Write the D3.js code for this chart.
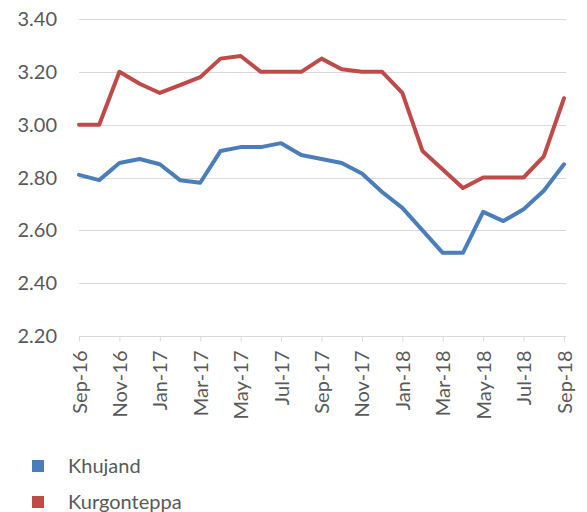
<!DOCTYPE html>
<html>
<head>
<meta charset="utf-8">
<script src="https://cdn.jsdelivr.net/npm/d3@7"></script>
<style>
  html, body { margin: 0; padding: 0; background: #fff; }
  svg { display: block; }
  text { font-family: Lato, "Open Sans", sans-serif; fill: #595959; }
</style>
</head>
<body>
<svg id="chart" width="587" height="512"></svg>
<script>
const months = ["Sep-16","Oct-16","Nov-16","Dec-16","Jan-17","Feb-17","Mar-17","Apr-17","May-17","Jun-17","Jul-17","Aug-17",
  "Sep-17","Oct-17","Nov-17","Dec-17","Jan-18","Feb-18","Mar-18","Apr-18","May-18","Jun-18","Jul-18","Aug-18","Sep-18"];
const khujand = [2.81,2.79,2.855,2.87,2.85,2.79,2.78,2.90,2.915,2.915,2.93,2.885,
  2.87,2.855,2.815,2.745,2.685,2.60,2.515,2.515,2.67,2.635,2.68,2.75,2.85];
const kurgonteppa = [3.00,3.00,3.20,3.155,3.12,3.15,3.18,3.25,3.26,3.20,3.20,3.20,
  3.25,3.21,3.20,3.20,3.12,2.90,2.83,2.76,2.80,2.80,2.80,2.88,3.10];
const yTicks = [2.20,2.40,2.60,2.80,3.00,3.20,3.40];
const seriesNames = ["Khujand","Kurgonteppa"];
const seriesColors = ["#4A7EBB","#BE4B48"];

const svg = d3.select("#chart");
const x = d3.scalePoint().domain(months).range([79, 564]);
const y = d3.scaleLinear().domain([2.2, 3.4]).range([336, 19]);

// gridlines
svg.append("g").selectAll("line").data(yTicks.slice(1)).join("line")
  .attr("x1", 79).attr("x2", 566)
  .attr("y1", d => Math.round(y(d)) + 0.5).attr("y2", d => Math.round(y(d)) + 0.5)
  .attr("stroke", "#d9d9d9").attr("stroke-width", 1);

// y labels
svg.append("g").selectAll("text").data(yTicks).join("text")
  .attr("x", 57).attr("y", d => y(d))
  .attr("dy", "0.35em").attr("text-anchor", "end")
  .attr("font-size", 20)
  .text(d => d.toFixed(2));

// x axis
const labelled = months.filter((m, i) => i % 2 === 0);
const xAxis = d3.axisBottom(x).tickValues(labelled).tickSize(5).tickPadding(8);
const gx = svg.append("g").attr("transform", `translate(0,${Math.round(y(2.2)) + 0.5})`).call(xAxis);
gx.select(".domain").attr("stroke", "#d9d9d9").attr("d", `M79,0H566`);
gx.selectAll(".tick line").attr("stroke", "#d9d9d9");
gx.selectAll(".tick text")
  .attr("font-size", 20)
  .attr("font-family", "Lato, 'Open Sans', sans-serif")
  .attr("fill", "#595959")
  .attr("text-anchor", "end")
  .attr("transform", "rotate(-90)")
  .attr("x", -14).attr("y", 0).attr("dy", "0.35em");

// lines
const line = d3.line().x((d, i) => x(months[i])).y(d => y(d));
[khujand, kurgonteppa].forEach((s, k) => {
  svg.append("path").datum(s)
    .attr("fill", "none")
    .attr("stroke", seriesColors[k])
    .attr("stroke-width", 4)
    .attr("stroke-linejoin", "round")
    .attr("stroke-linecap", "round")
    .attr("d", line);
});

// legend
const lg = svg.append("g");
seriesNames.forEach((n, i) => {
  const cy = 466 + i * 36;
  lg.append("rect").attr("x", 32).attr("y", cy - 6).attr("width", 12).attr("height", 12)
    .attr("fill", seriesColors[i]);
  lg.append("text").attr("x", 68).attr("y", cy).attr("dy", "0.35em")
    .attr("font-size", 20).attr("fill", "#404040").text(n);
});
</script>
</body>
</html>
